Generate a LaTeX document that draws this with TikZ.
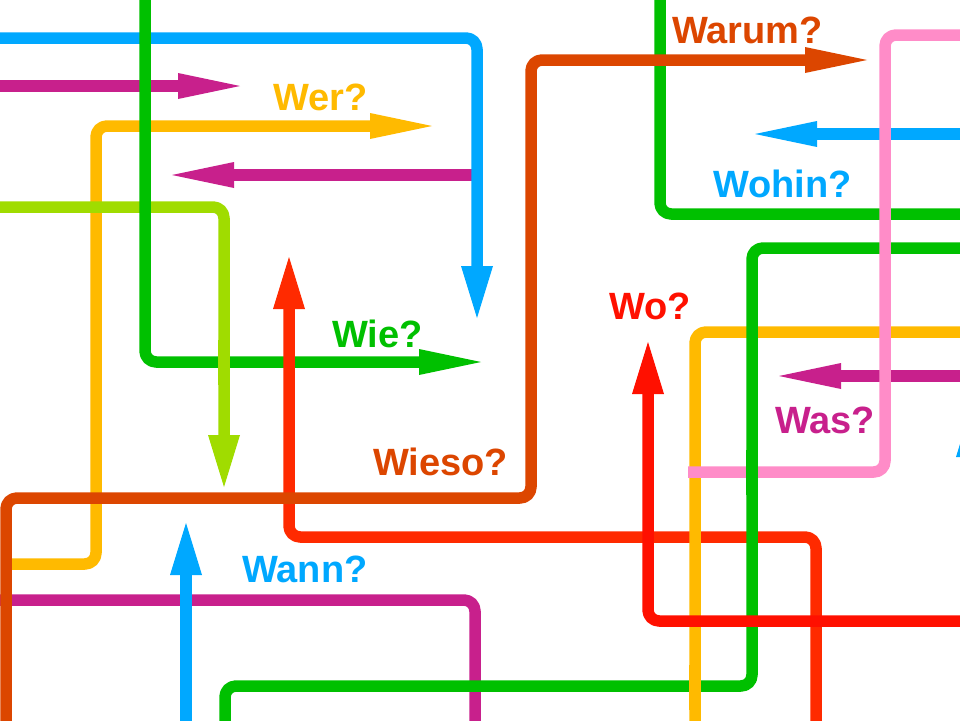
\documentclass[tikz,border=0pt]{standalone}
\usepackage{fontspec}
\setmainfont{Liberation Sans}
\usetikzlibrary{arrows.meta}
\definecolor{cBlue}{HTML}{00A8FF}
\definecolor{cMag}{HTML}{C8208C}
\definecolor{cGreen}{HTML}{00C000}
\definecolor{cYellow}{HTML}{FFBA00}
\definecolor{cLime}{HTML}{A0DC00}
\definecolor{cRedA}{HTML}{FF2A00}
\definecolor{cRedB}{HTML}{FF1000}
\definecolor{cOrange}{HTML}{DC4600}
\definecolor{cPink}{HTML}{FF8CC8}
\tikzset{
  wire/.style={line width=11.5pt, rounded corners=11pt, line cap=butt, line join=round},
  harrow/.style={-{Triangle[length=62pt,width=26pt,line width=0pt]}},
  varrow/.style={-{Triangle[length=52pt,width=32pt,line width=0pt]}},
  lbl/.style={anchor=base west, inner sep=0pt, font=\fontsize{38}{38}\selectfont\bfseries},
}
\begin{document}
\begin{tikzpicture}[x=1pt,y=-1pt]
\useasboundingbox (0,0) rectangle (960,720);
\fill[white] (0,0) rectangle (960,720);
\clip (0,0) rectangle (960,720);

% green frame top right (Wohin)
\draw[wire,cGreen] (660,-20) -- (660,214) -- (980,214);
% magenta middle arrow (left)
\draw[wire,cMag,harrow] (477,175) -- (172,175);
% blue top
\draw[wire,cBlue,varrow] (-20,38) -- (477,38) -- (477,318);
% magenta top arrow
\draw[wire,cMag,harrow] (-20,86) -- (240,86);
% yellow left (Wer)
\draw[wire,cYellow,harrow] (6,564) -- (96,564) -- (96,126) -- (432,126);
% lime
\draw[wire,cLime,varrow] (-20,207) -- (224,207) -- (224,487);
% green left (Wie)
\draw[wire,cGreen,harrow] (145,-20) -- (145,362) -- (481,362);
% lime over green patch
\draw[wire,cLime] (224,340) -- (224,385);
% red A
\draw[wire,cRedA,varrow] (816,740) -- (816,537) -- (289,537) -- (289,257);
% magenta bottom
\draw[wire,cMag] (-20,600) -- (475,600) -- (475,740);
% orange (Wieso / Warum)
\draw[wire,cOrange,harrow] (6,740) -- (6,498) -- (531,498) -- (531,60) -- (867,60);
% blue Wann
\draw[wire,cBlue,varrow] (186,740) -- (186,523);
% blue Wohin
\draw[wire,cBlue,harrow] (980,134) -- (755,134);
% magenta Was
\draw[wire,cMag,harrow] (980,376) -- (779,376);
% yellow right
\draw[wire,cYellow] (980,332) -- (695,332) -- (695,740);
% green big
\draw[wire,cGreen] (980,248) -- (752,248) -- (752,686) -- (225,686) -- (225,740);
% yellow over green patch
\draw[wire,cYellow] (695,665) -- (695,710);
% pink
\draw[wire,cPink] (980,35) -- (885,35) -- (885,472) -- (688,472);
% green over pink patch
\draw[wire,cGreen] (752,450) -- (752,495);
% red B (Wo)
\draw[wire,cRedB,varrow] (980,621) -- (648,621) -- (648,342);
% blue far right
\draw[wire,cBlue,varrow] (972,740) -- (972,405);

% labels
\node[lbl,text=cYellow] (wer) at (273,110) {Wer?};
\node[lbl,text=cOrange] (warum) at (672,43) {Warum?};
\node[lbl,text=cBlue] (wohin) at (713,197) {Wohin?};
\node[lbl,text=cGreen] (wie) at (332,347) {Wie?};
\node[lbl,text=cRedB] (wo) at (609,319) {Wo?};
\node[lbl,text=cOrange] (wieso) at (373,475) {Wieso?};
\node[lbl,text=cMag] (was) at (775,433) {Was?};
\node[lbl,text=cBlue] (wann) at (242,582) {Wann?};
\end{tikzpicture}
\end{document}
